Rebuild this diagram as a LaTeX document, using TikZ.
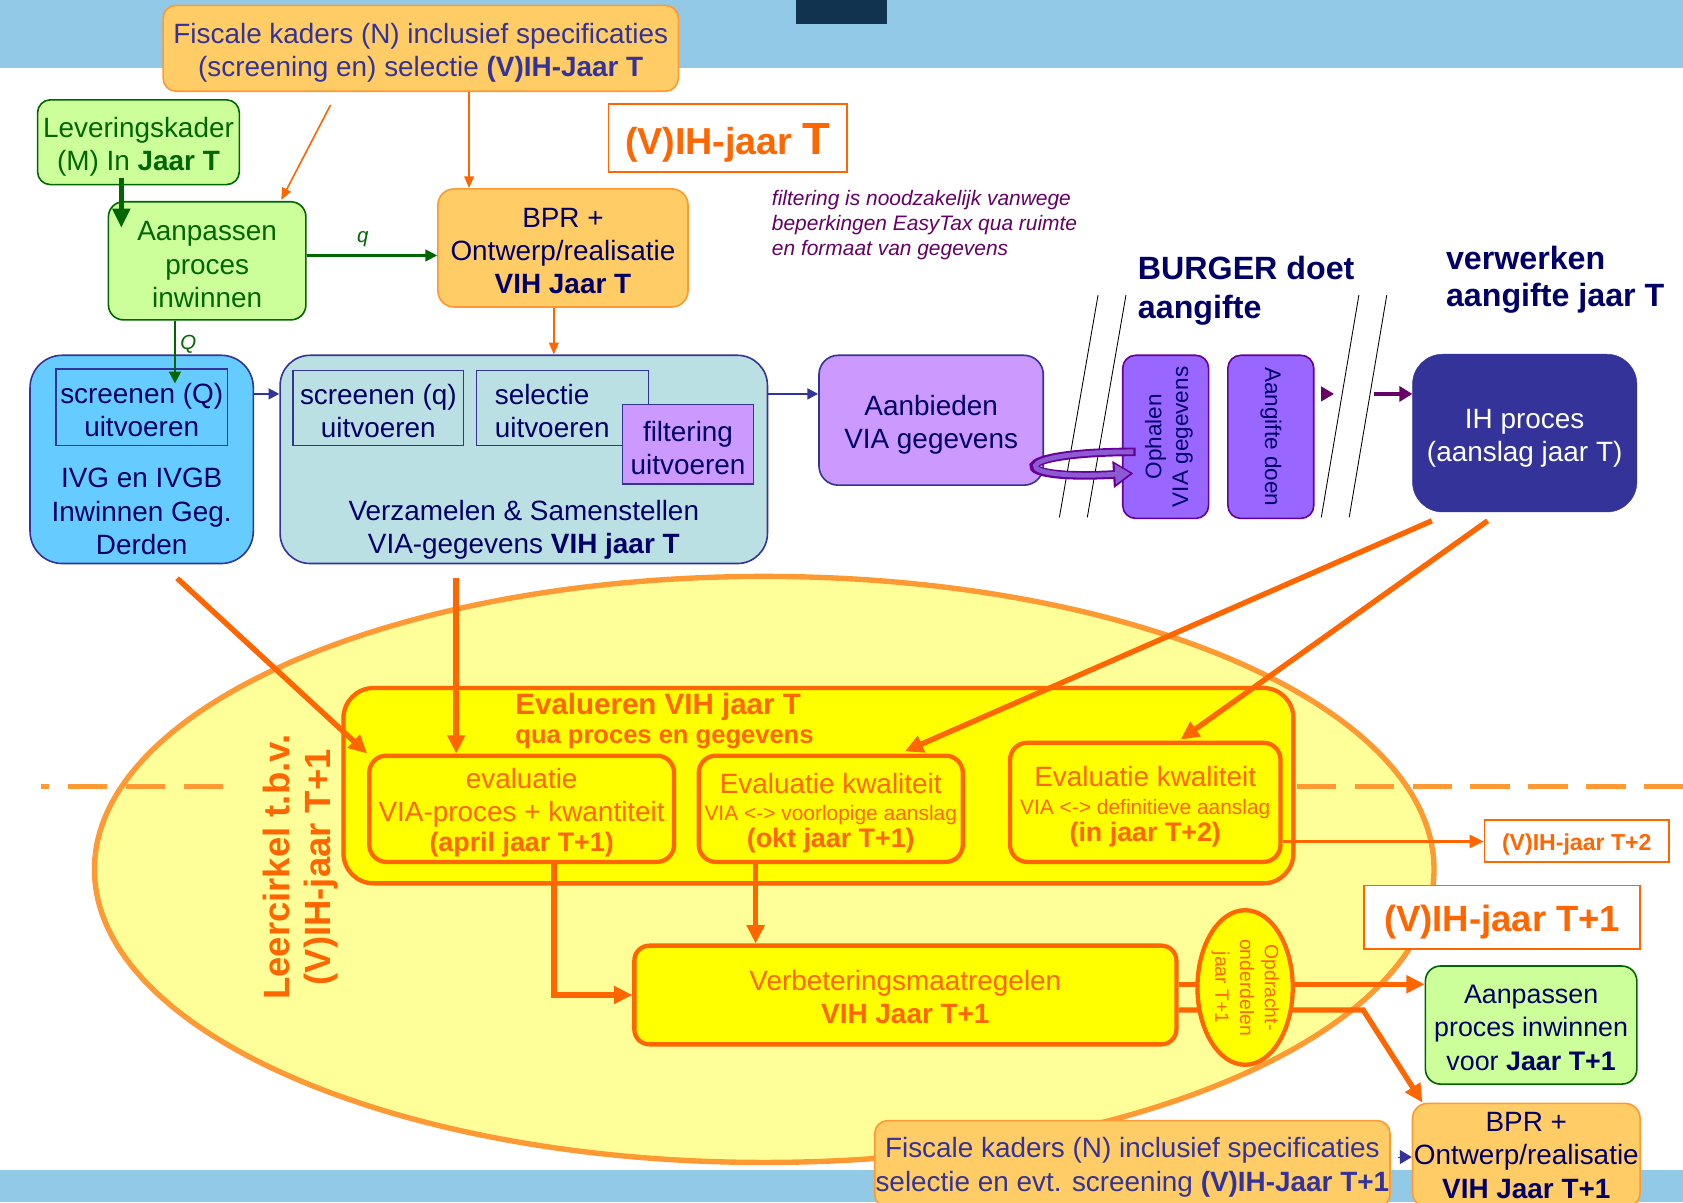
\documentclass[tikz,border=0pt]{standalone}
\usepackage{fontspec}
\usepackage{graphicx}
\setmainfont{Liberation Sans}
\usetikzlibrary{arrows.meta,shapes.geometric}
\definecolor{bandblue}{RGB}{145,201,230}
\definecolor{darkbox}{RGB}{18,51,79}
\definecolor{fiscfill}{RGB}{255,204,102}
\definecolor{fiscdraw}{RGB}{255,153,51}
\definecolor{navytxt}{RGB}{0,0,102}
\definecolor{bluetxt}{RGB}{51,51,153}
\definecolor{greenfill}{RGB}{204,255,153}
\definecolor{greendraw}{RGB}{0,102,0}
\definecolor{orng}{RGB}{255,102,0}
\definecolor{ellfill}{RGB}{255,255,153}
\definecolor{elldraw}{RGB}{255,153,51}
\definecolor{ivgfill}{RGB}{102,204,255}
\definecolor{verzfill}{RGB}{187,224,227}
\definecolor{lilac}{RGB}{204,153,255}
\definecolor{violetbox}{RGB}{153,102,255}
\definecolor{violetdraw}{RGB}{102,0,153}
\definecolor{curvefill}{RGB}{140,90,210}
\definecolor{ihfill}{RGB}{51,51,153}
\definecolor{notepurple}{RGB}{102,0,102}
\definecolor{yel}{RGB}{255,255,0}
\newcommand\fz[2]{\fontsize{#1}{#2}\selectfont}
% taller first line: moves a centred text block down by half the argument
\newcommand\dn[1][7pt]{\rule{0pt}{\dimexpr0.73em+#1\relax}}
\tikzset{
 fiscbox/.style={draw=fiscdraw, fill=fiscfill, line width=1.5pt, rounded corners=12pt, inner sep=0pt, align=center, text=bluetxt, font=\fz{26}{31}},
 greenbox/.style={draw=greendraw, fill=greenfill, line width=1.5pt, rounded corners=14pt, inner sep=0pt, align=center, font=\fz{26}{31}},
 bluebox/.style={draw=bluetxt, line width=1.5pt, inner sep=0pt, align=center, text=navytxt, font=\fz{26}{31}},
 violbox/.style={draw=violetdraw, fill=violetbox, line width=1.5pt, rounded corners=12pt, inner sep=0pt, align=center, text=navytxt, font=\fz{21}{25}},
 evbox/.style={draw=orng, fill=yel, line width=4pt, rounded corners=16pt, inner sep=0pt, align=center, text=orng},
 yearbox/.style={draw=orng, fill=white, line width=1.5pt, inner sep=0pt, align=center, text=orng},
 freetext/.style={inner sep=0pt, align=center},
 thickarr/.style={draw=orng, line width=5pt, -{Triangle[length=17pt,width=16pt]}},
 thinarr/.style={draw=orng, line width=1.5pt, -{Triangle[length=11pt,width=9pt]}},
 navyarr/.style={draw=bluetxt, line width=2pt, -{Triangle[length=10pt,width=10pt]}},
 greenarr/.style={draw=greendraw, line width=2pt, -{Triangle[length=11pt,width=11pt]}},
 slash/.style={draw=black, line width=0.8pt},
}
\begin{document}
\begin{tikzpicture}[x=1pt,y=-1pt]
\useasboundingbox (0,0) rectangle (1568,1120);
% bands
\fill[bandblue] (0,0) rectangle (1568,63);
\fill[darkbox] (742,0) rectangle (826,22);
\fill[bandblue] (0,1090) rectangle (1568,1120);

% learning ellipse
\node[ellipse, draw=elldraw, fill=ellfill, line width=5pt, minimum width=1248pt, minimum height=546pt, inner sep=0pt] (leer) at (712,810) {};
\draw[elldraw, line width=4.5pt, dash pattern=on 37pt off 17pt] (208,733) -- (38,733);
\draw[elldraw, line width=4.5pt, dash pattern=on 37pt off 17pt] (1208,733) -- (1568,733);
\node[freetext, rotate=90, text=orng, font=\bfseries\fz{34}{38}] (leertxt) at (280,808) {Leercirkel t.b.v.\\(V)IH-jaar T+1};

% top row
\node[fiscbox, minimum width=480pt, minimum height=80pt] (fisc1) at (392,45) {\dn[8pt]Fiscale kaders (N) inclusief specificaties\\(screening en) selectie \textbf{(V)IH-Jaar T}};
\node[greenbox, text=greendraw, rounded corners=12pt, minimum width=188pt, minimum height=79pt] (lev) at (129,132.5) {\dn[8pt]Leveringskader\\(M) In \textbf{Jaar T}};
\node[greenbox, text=greendraw, minimum width=184pt, minimum height=110pt] (aanp) at (193,243) {\dn[6pt]Aanpassen\\proces\\inwinnen};
\node[fiscbox, text=navytxt, rounded corners=15pt, minimum width=233pt, minimum height=110pt] (bpr) at (524.5,231) {\dn[5pt]BPR +\\Ontwerp/realisatie\\\textbf{VIH Jaar T}};
\node[yearbox, minimum width=222pt, minimum height=63pt, font=\bfseries] (vihT) at (678,128.5) {\rule{0pt}{39pt}\fz{35}{40}(V)IH-jaar \fz{42}{46}T};
\node[anchor=north west, inner sep=0pt, align=left, text=notepurple, font=\itshape\fz{19.5}{23.5}] (note) at (719,177) {filtering is noodzakelijk vanwege\\beperkingen EasyTax qua ruimte\\en formaat van gegevens};
\node[anchor=north west, inner sep=0pt, align=left, text=navytxt, font=\bfseries\fz{30}{37}] (burger) at (1060,238) {BURGER doet\\aangifte};
\node[anchor=north west, inner sep=0pt, align=left, text=navytxt, font=\bfseries\fz{30}{35}] (verwerk) at (1347,229) {verwerken\\aangifte jaar T};

% process row
\node[bluebox, fill=ivgfill, rounded corners=30pt, minimum width=208pt, minimum height=194pt] (ivg) at (132,428) {};
\node[bluebox, minimum width=160pt, minimum height=71pt] (scrQ) at (132,379.5) {\dn[5pt]screenen (Q)\\uitvoeren};
\node[freetext, text=navytxt, font=\fz{26}{31}] (ivgtxt) at (132,476.5) {IVG en IVGB\\Inwinnen Geg.\\Derden};

\node[bluebox, fill=verzfill, rounded corners=28pt, minimum width=454pt, minimum height=194pt] (verz) at (488,428) {};
\node[bluebox, minimum width=159pt, minimum height=70pt] (scrq) at (352.5,380) {\dn[6pt]screenen (q)\\uitvoeren};
\node[bluebox, align=left, inner xsep=17pt, text width=126pt, minimum height=70pt] (sel) at (524,380) {\dn[6pt]selectie\\uitvoeren};
\node[bluebox, fill=lilac, minimum width=122pt, minimum height=74pt] (filt) at (641,414) {\dn[7pt]filtering\\uitvoeren};
\node[freetext, text=navytxt, font=\fz{26}{31}] (verztxt) at (488,493.5) {Verzamelen \& Samenstellen\\VIA-gegevens \textbf{VIH jaar T}};

\node[bluebox, fill=lilac, rounded corners=18pt, minimum width=209pt, minimum height=121pt] (aanb) at (867.5,391.5) {\dn[8pt]Aanbieden\\VIA gegevens};
\node[violbox, rotate=90, minimum width=152pt, minimum height=80pt] (oph) at (1086,407) {\dn[6pt]Ophalen\\VIA gegevens};
\node[violbox, rotate=-90, minimum width=152pt, minimum height=80pt] (aang) at (1184,407) {Aangifte doen};
\node[fill=ihfill, draw=ihfill, rounded corners=28pt, minimum width=209pt, minimum height=147pt, inner sep=0pt, align=center, text=white, font=\fz{26}{31}] (ih) at (1420.5,403.5) {\dn[9pt]IH proces\\(aanslag jaar T)};

\draw[slash] (1023,275) -- (987,482);
\draw[slash] (1049,275) -- (1013,482);
\draw[slash] (1266,275) -- (1231,482);
\draw[slash] (1292,275) -- (1257,482);

% evaluation block
\node[evbox, rounded corners=28pt, minimum width=885pt, minimum height=182pt] (evout) at (762.5,732) {};
\node[anchor=north west, inner sep=0pt, align=left, text=orng, font=\bfseries\fz{23.8}{26.5}] (evtitle) at (480,646) {{\fz{27.5}{30}Evalueren VIH jaar T}\\qua proces en gegevens};
\node[evbox, minimum width=284pt, minimum height=99pt, font=\fz{26}{31}] (ev1) at (486,753.5) {\dn[7pt]evaluatie\\VIA-proces + kwantiteit\\[-3pt]{\bfseries\fz{25}{28}(april jaar T+1)}};
\node[evbox, minimum width=246pt, minimum height=99pt, font=\fz{26}{25}] (ev2) at (774,753.5) {\dn[8pt]Evaluatie kwaliteit\\{\fz{19.5}{22}VIA <-> voorlopige aanslag}\\{\bfseries\fz{25}{28}(okt jaar T+1)}};
\node[evbox, minimum width=252pt, minimum height=111pt, font=\fz{26}{25.5}] (ev3) at (1067,747.5) {\dn[8pt]Evaluatie kwaliteit\\{\fz{19.5}{22}VIA <-> definitieve aanslag}\\{\bfseries\fz{25}{28}(in jaar T+2)}};
\node[yearbox, minimum width=172pt, minimum height=39pt, font=\bfseries\fz{21.5}{25}] (t2) at (1469,783.5) {\dn[6pt](V)IH-jaar T+2};
\node[yearbox, minimum width=257pt, minimum height=59pt, font=\bfseries\fz{34}{40}] (t1) at (1399.5,854.5) {\dn[9pt](V)IH-jaar T+1};

\node[evbox, rounded corners=14pt, minimum width=505pt, minimum height=92pt, font=\fz{26}{31}] (verb) at (843.5,927) {\dn[3pt]Verbeteringsmaatregelen\\\textbf{VIH Jaar T+1}};
\node[greenbox, text=navytxt, font=\fz{25}{31}, minimum width=197pt, minimum height=110pt] (aanp2) at (1426.5,955) {\dn[4pt]Aanpassen\\proces inwinnen\\voor \textbf{Jaar T+1}};
\node[fiscbox, text=navytxt, rounded corners=14pt, minimum width=212pt, minimum height=97pt] (bpr2) at (1422,1076.5) {BPR +\\Ontwerp/realisatie\\\textbf{VIH Jaar T+1}};
\node[fiscbox, minimum width=480pt, minimum height=81pt] (fisc2) at (1055,1084.5) {\dn[6pt]Fiscale kaders (N) inclusief specificaties\\selectie en evt. screening \textbf{(V)IH-Jaar T+1}};

% connectors, top
\draw[draw=greendraw, line width=5pt, -{Triangle[length=18pt,width=16pt]}] ([xshift=-16pt,yshift=7pt]lev.south) -- ([xshift=-80pt,yshift=-25pt]aanp.north);
\draw[thinarr] ([xshift=-84pt,yshift=-12pt]fisc1.south) -- ([xshift=69pt,yshift=1pt]aanp.north);
\draw[thinarr] ([xshift=45pt]fisc1.south) -- ([xshift=45pt]fisc1.south |- bpr.north);
\draw[greenarr] ([yshift=5pt]aanp.east) -- node[pos=0.43, above=7pt, inner sep=0pt, text=greendraw, font=\itshape\fz{19}{22}] {q} ([yshift=5pt]aanp.east -| bpr.west);
\draw[greenarr] ([xshift=-30pt]aanp.south) -- node[pos=0.37, right=4pt, inner sep=0pt, text=greendraw, font=\itshape\fz{19}{22}] {Q} ([xshift=-30pt,yshift=-14pt]aanp.south |- scrQ.north);
\draw[thinarr] ([xshift=-8.5pt]bpr.south) -- ([xshift=-8.5pt]bpr.south |- verz.north);
\draw[navyarr] ([yshift=61pt]ivg.east) -- ([yshift=61pt]ivg.east -| verz.west);
\draw[navyarr] ([yshift=61pt]verz.east) -- ([yshift=61pt]verz.east -| aanb.west);
\draw[draw=notepurple, line width=1pt, shorten <=6pt, -{Triangle[length=12pt,width=14pt]}] ([yshift=40pt]aang.north) -- ++(18,0);
\coordinate (purpstart) at (1280,367);
\draw[draw=notepurple, line width=4pt, -{Triangle[length=12pt,width=14pt]}] (purpstart) -- (purpstart -| ih.west);
% curved ribbon arrow
\draw[draw=violetdraw, line width=8pt, -{Triangle[length=19pt,width=24pt]}] (1058,421) .. controls (935,421) and (935,448) .. (1056,441);
\draw[draw=curvefill, line width=4.5pt, -{Triangle[length=14pt,width=18pt]}] (1056,421) .. controls (937,421) and (937,448) .. (1053,441);

% connectors into evaluation
\draw[thickarr] ([xshift=33pt,yshift=-13pt]ivg.south) -- (ev1.north west);
\draw[thickarr] ([xshift=-63pt,yshift=-13pt]verz.south) -- ([xshift=-61pt]ev1.north);
\draw[thickarr] ([xshift=-86.5pt,yshift=-8pt]ih.south) -- ([xshift=69pt,yshift=2pt]ev2.north);
\draw[thickarr] ([xshift=-34.5pt,yshift=-8pt]ih.south) -- ([xshift=33pt,yshift=1pt]ev3.north);
\draw[draw=orng, line width=2.5pt, -{Triangle[length=13pt,width=12pt]}] ([yshift=-36.5pt]ev3.east) -- ([yshift=-36.5pt]ev3.east -| t2.west);
\draw[thickarr] ([xshift=30pt]ev1.south) |- (verb.west);
\draw[thickarr] ([xshift=-70pt]ev2.south) -- ([xshift=-70pt]ev2.south |- verb.north);
\draw[thickarr] ([yshift=10pt]verb.east) -- ([yshift=10pt]verb.east -| aanp2.west);
\draw[thickarr] ([yshift=-14pt]verb.east) -- ++(172,0) -- ([xshift=10pt]bpr2.north west);
\node[ellipse, rotate=-90, draw=orng, fill=yel, line width=4pt, minimum width=144pt, minimum height=85pt, inner sep=0pt, align=center, text=orng, font=\fz{18}{23}] (opd) at (1160,920) {Opdracht-\\onderdelen\\jaar T+1};
\draw[draw=bluetxt, line width=1pt, shorten <=7pt, -{Triangle[length=11pt,width=13pt]}] ([yshift=6.5pt]fisc2.east) -- ([yshift=6.5pt]fisc2.east -| bpr2.west);
\end{tikzpicture}
\end{document}
